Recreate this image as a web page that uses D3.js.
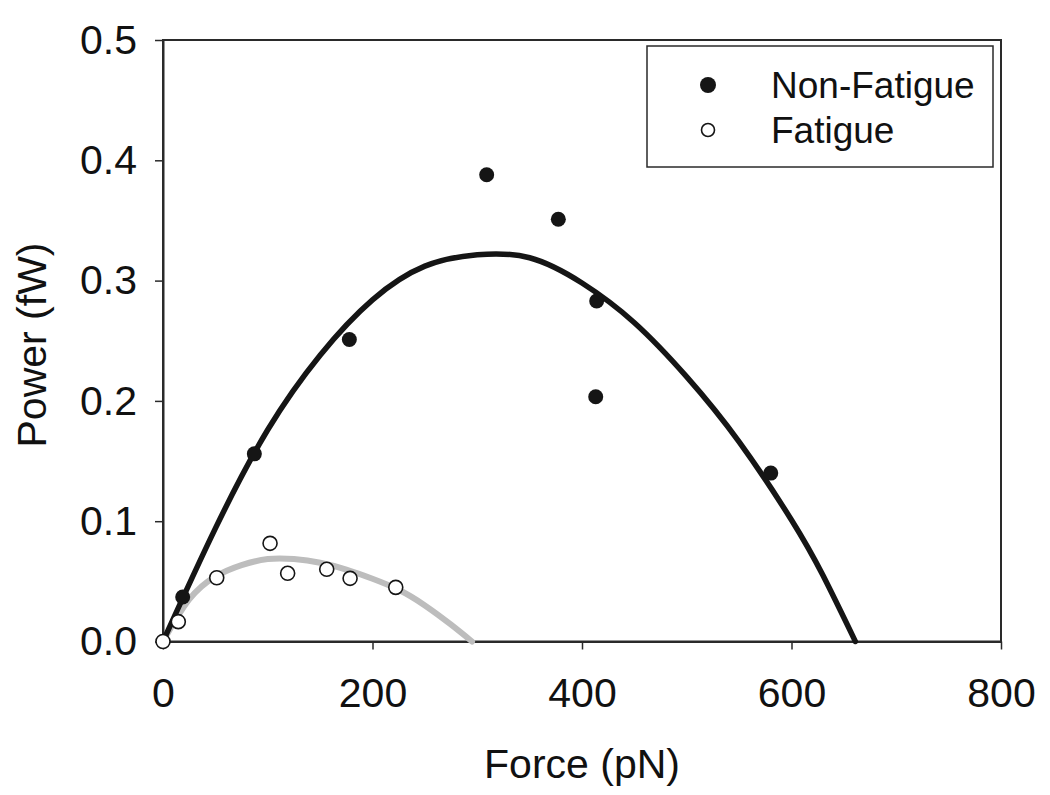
<!DOCTYPE html>
<html>
<head>
<meta charset="utf-8">
<script src="https://cdn.jsdelivr.net/npm/d3@7"></script>
<style>
  html, body { margin: 0; padding: 0; background: #fff; }
  svg { display: block; }
  text { font-family: "Liberation Sans", Arial, sans-serif; fill: #111; }
</style>
</head>
<body>
<svg id="chart" width="1050" height="795"></svg>
<script>
// ---- Data ----
const nonFatigueForce = [18.8, 87.2, 177.9, 309, 377.4, 414, 413.1, 580.2];
const nonFatiguePower = [0.037, 0.156, 0.251, 0.388, 0.351, 0.283, 0.2035, 0.140];

const fatigueForce = [0, 14.6, 51.3, 102.2, 119, 156.3, 178.6, 222.2];
const fatiguePower = [0, 0.0165, 0.053, 0.0816, 0.0567, 0.060, 0.0525, 0.045];

// fitted curves at regular force steps
const nonFatigueFitForce = [0, 50, 100, 150, 200, 250, 300, 350, 400, 450, 500, 550, 600, 630, 661];
const nonFatigueFitPower = [0, 0.094, 0.176, 0.238, 0.284, 0.312, 0.3215, 0.319, 0.298, 0.265, 0.220, 0.166, 0.101, 0.055, 0];

const fatigueFitForce = [0, 25, 50, 75, 100, 125, 150, 175, 200, 225, 250, 275, 295];
const fatigueFitPower = [0, 0.035, 0.054, 0.0635, 0.0685, 0.0685, 0.0655, 0.0598, 0.0522, 0.0430, 0.0300, 0.0140, 0];

const xTicks = [0, 200, 400, 600, 800];
const yTicks = [0, 0.1, 0.2, 0.3, 0.4, 0.5];
const legendLabels = ["Non-Fatigue", "Fatigue"];
const xTitle = "Force (pN)";
const yTitle = "Power (fW)";

// ---- Layout ----
const W = 1050, H = 795;
const margin = { top: 40, right: 49, bottom: 153.5, left: 163 };
const iw = W - margin.left - margin.right;
const ih = H - margin.top - margin.bottom;

const svg = d3.select("#chart");
const g = svg.append("g").attr("transform", `translate(${margin.left},${margin.top})`);

const x = d3.scaleLinear().domain([0, 800]).range([0, iw]);
const y = d3.scaleLinear().domain([0, 0.5]).range([ih, 0]);

// frame (top + right)
g.append("rect")
  .attr("x", 0).attr("y", 0).attr("width", iw).attr("height", ih)
  .attr("fill", "none").attr("stroke", "#2a2a2a").attr("stroke-width", 2);

// axes
const xAxis = g.append("g").attr("transform", `translate(0,${ih})`)
  .call(d3.axisBottom(x).tickValues(xTicks).tickSize(8).tickSizeOuter(0).tickPadding(28).tickFormat(d3.format("d")));
const yAxis = g.append("g")
  .call(d3.axisLeft(y).tickValues(yTicks).tickSize(8).tickSizeOuter(0).tickPadding(18).tickFormat(d3.format(".1f")));

[xAxis, yAxis].forEach(a => {
  a.select(".domain").attr("stroke", "#2a2a2a").attr("stroke-width", 2);
  a.selectAll(".tick line").attr("stroke", "#2a2a2a").attr("stroke-width", 1.5);
  a.selectAll(".tick text").attr("font-size", 41).attr("fill", "#111")
    .style("font-family", "'Liberation Sans', Arial, sans-serif");
});

// curves
const line = d3.line().x(d => x(d[0])).y(d => y(d[1])).curve(d3.curveNatural);

g.append("path")
  .datum(fatigueFitForce.map((f, i) => [f, fatigueFitPower[i]]))
  .attr("d", line).attr("fill", "none").attr("stroke", "#bdbdbd").attr("stroke-width", 6)
  .attr("stroke-linecap", "round");

g.append("path")
  .datum(nonFatigueFitForce.map((f, i) => [f, nonFatigueFitPower[i]]))
  .attr("d", line).attr("fill", "none").attr("stroke", "#151515").attr("stroke-width", 5.5)
  .attr("stroke-linecap", "round");

// points
g.selectAll("circle.nf")
  .data(nonFatigueForce.map((f, i) => [f, nonFatiguePower[i]]))
  .enter().append("circle").attr("class", "nf")
  .attr("cx", d => x(d[0])).attr("cy", d => y(d[1])).attr("r", 7.5)
  .attr("fill", "#151515");

g.selectAll("circle.f")
  .data(fatigueForce.map((f, i) => [f, fatiguePower[i]]))
  .enter().append("circle").attr("class", "f")
  .attr("cx", d => x(d[0])).attr("cy", d => y(d[1])).attr("r", 7)
  .attr("fill", "#fff").attr("stroke", "#151515").attr("stroke-width", 1.6);

// axis titles
svg.append("text")
  .attr("x", margin.left + iw / 2).attr("y", 778)
  .attr("text-anchor", "middle").attr("font-size", 41).text(xTitle);

svg.append("text")
  .attr("transform", `translate(46,345) rotate(-90)`)
  .attr("text-anchor", "middle").attr("font-size", 41).text(yTitle);

// legend
const lg = svg.append("g");
lg.append("rect").attr("x", 647).attr("y", 46).attr("width", 346).attr("height", 121)
  .attr("fill", "#fff").attr("stroke", "#2a2a2a").attr("stroke-width", 1.5);
lg.append("circle").attr("cx", 708).attr("cy", 85).attr("r", 8).attr("fill", "#151515");
lg.append("circle").attr("cx", 708).attr("cy", 130).attr("r", 6.5).attr("fill", "#fff")
  .attr("stroke", "#151515").attr("stroke-width", 1.6);
lg.append("text").attr("x", 771).attr("y", 98).attr("font-size", 37).text(legendLabels[0]);
lg.append("text").attr("x", 771).attr("y", 143).attr("font-size", 37).text(legendLabels[1]);
</script>
</body>
</html>
